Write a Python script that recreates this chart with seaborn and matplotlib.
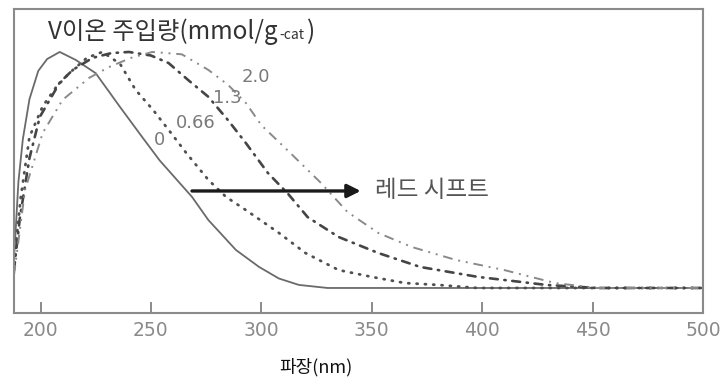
import matplotlib
matplotlib.use("Agg")
import matplotlib.pyplot as plt
import seaborn as sns
import pandas as pd

# ---- data ----
wl_0 = [188, 190, 192, 195, 199, 203, 208.7, 216, 225, 236, 246, 254, 268.6, 276, 288.5, 299, 308, 317, 330, 500]
abs_0 = [0.12, 0.45, 0.63, 0.80, 0.92, 0.97, 1.0, 0.966, 0.91, 0.767, 0.64, 0.54, 0.386, 0.288, 0.161, 0.089, 0.04, 0.013, 0.0, 0.0]

wl_066 = [188, 191, 195, 201, 207, 213, 221, 228, 236, 243, 251, 258, 266, 276, 284, 293, 308, 320, 335, 350, 365, 380, 398, 500]
abs_066 = [0.10, 0.38, 0.64, 0.77, 0.85, 0.91, 0.975, 1.0, 0.95, 0.84, 0.754, 0.67, 0.572, 0.458, 0.386, 0.33, 0.233, 0.148, 0.076, 0.047, 0.021, 0.013, 0.0, 0.0]

wl_13 = [188, 190.7, 195, 199.7, 208.7, 214.6, 223.6, 232, 240, 250, 258, 267, 276, 285, 293, 303, 312, 321, 335, 353, 372, 398, 429, 452, 500]
abs_13 = [0.076, 0.30, 0.55, 0.725, 0.87, 0.924, 0.975, 0.995, 1.0, 0.985, 0.953, 0.88, 0.81, 0.71, 0.614, 0.487, 0.40, 0.30, 0.216, 0.148, 0.089, 0.047, 0.013, 0.0, 0.0]

wl_20 = [188, 193, 201, 210, 222, 231, 241, 250.6, 264, 276, 285, 293, 300, 314, 327, 339, 353, 368, 388, 410, 433, 452, 500]
abs_20 = [0.055, 0.415, 0.657, 0.797, 0.89, 0.936, 0.975, 1.0, 0.99, 0.924, 0.86, 0.784, 0.69, 0.564, 0.445, 0.322, 0.233, 0.174, 0.119, 0.076, 0.021, 0.0, 0.0]

series_labels = ["0", "0.66", "1.3", "2.0"]
x_ticks = [200, 250, 300, 350, 400, 450, 500]
title_main = "V이온 주입량(mmol/g"
title_sub = "-cat"
x_label = "파장(nm)"
shift_label = "레드 시프트"

# ---- styling ----
sns.set_theme(style="white")
plt.rcParams["font.family"] = ["Noto Sans CJK KR", "DejaVu Sans"]

fig = plt.figure(figsize=(7.25, 3.83), dpi=100)
ax = fig.add_axes([14 / 725, 1 - 313 / 383, (703 - 14) / 725, (313 - 9) / 383])

styles = [
    dict(color="#6a6a6a", linewidth=1.3, linestyle="-"),
    dict(color="#505050", linewidth=2.0, linestyle=(0, (0.4, 2.6)), dash_capstyle="round"),
    dict(color="#454545", linewidth=1.9, linestyle=(0, (3, 2.5, 0.5, 2.5)), dash_capstyle="round"),
    dict(color="#8a8a8a", linewidth=1.4, linestyle=(0, (5, 3, 1, 3, 1, 3))),
]
data = [(wl_0, abs_0), (wl_066, abs_066), (wl_13, abs_13), (wl_20, abs_20)]
for (wl, ab), st, lab in zip(data, styles, series_labels):
    df = pd.DataFrame({"wl": wl, "abs": ab})
    sns.lineplot(data=df, x="wl", y="abs", ax=ax, errorbar=None, legend=False, **st)

ax.set_xlim(188, 500)
ax.set_ylim(-0.106, 1.182)
ax.set_xticks(x_ticks)
ax.set_xticklabels([str(t) for t in x_ticks], fontfamily="DejaVu Sans")
ax.set_yticks([])
ax.set_xlabel("")
ax.set_ylabel("")
ax.xaxis.set_ticks_position("bottom")
ax.tick_params(axis="x", which="major", direction="in", length=8, width=1.4, color="#8a8a8a",
               labelcolor="#8a8a8a", labelsize=13.5, pad=6, bottom=True)
for sp in ax.spines.values():
    sp.set_color("#8a8a8a")
    sp.set_linewidth(1.5)
    sp.set_visible(True)

# curve labels
label_pos = {"2.0": (297.5, 0.894), "1.3": (284.4, 0.805), "0.66": (270.4, 0.699), "0": (253.8, 0.627)}
for lab in series_labels:
    x, y = label_pos[lab]
    ax.text(x, y, lab, ha="center", va="center", fontsize=13, color="#7a7a7a",
            family="DejaVu Sans")

# red shift arrow
ax.annotate("", xy=(345, 0.411), xytext=(268.6, 0.411),
            arrowprops=dict(arrowstyle="-|>", color="#1a1a1a", lw=2.4, mutation_scale=20,
                            shrinkA=0, shrinkB=0))
ax.text(351.5, 0.411, shift_label, ha="left", va="center", fontsize=17, color="#555555")

# title
t1 = fig.text(48 / 725, 1 - 32 / 383, title_main, ha="left", va="center",
              fontsize=17.5, color="#333333", fontweight="medium")
t2 = fig.text(0, 0, title_sub, ha="left", va="center", fontsize=10, color="#333333")
t3 = fig.text(0, 0, ")", ha="left", va="center", fontsize=17.5, color="#333333")
fig.canvas.draw()
r = fig.canvas.get_renderer()
bb1 = t1.get_window_extent(r).transformed(fig.transFigure.inverted())
t2.set_position((bb1.x1 + 0.002, 1 - 35 / 383))
fig.canvas.draw()
bb2 = t2.get_window_extent(r).transformed(fig.transFigure.inverted())
t3.set_position((bb2.x1 + 0.002, 1 - 32 / 383))

# x label
fig.text(316 / 725, 1 - 367 / 383, x_label, ha="center", va="center", fontsize=13, color="#111111")

fig.savefig("out.png", dpi=100)
